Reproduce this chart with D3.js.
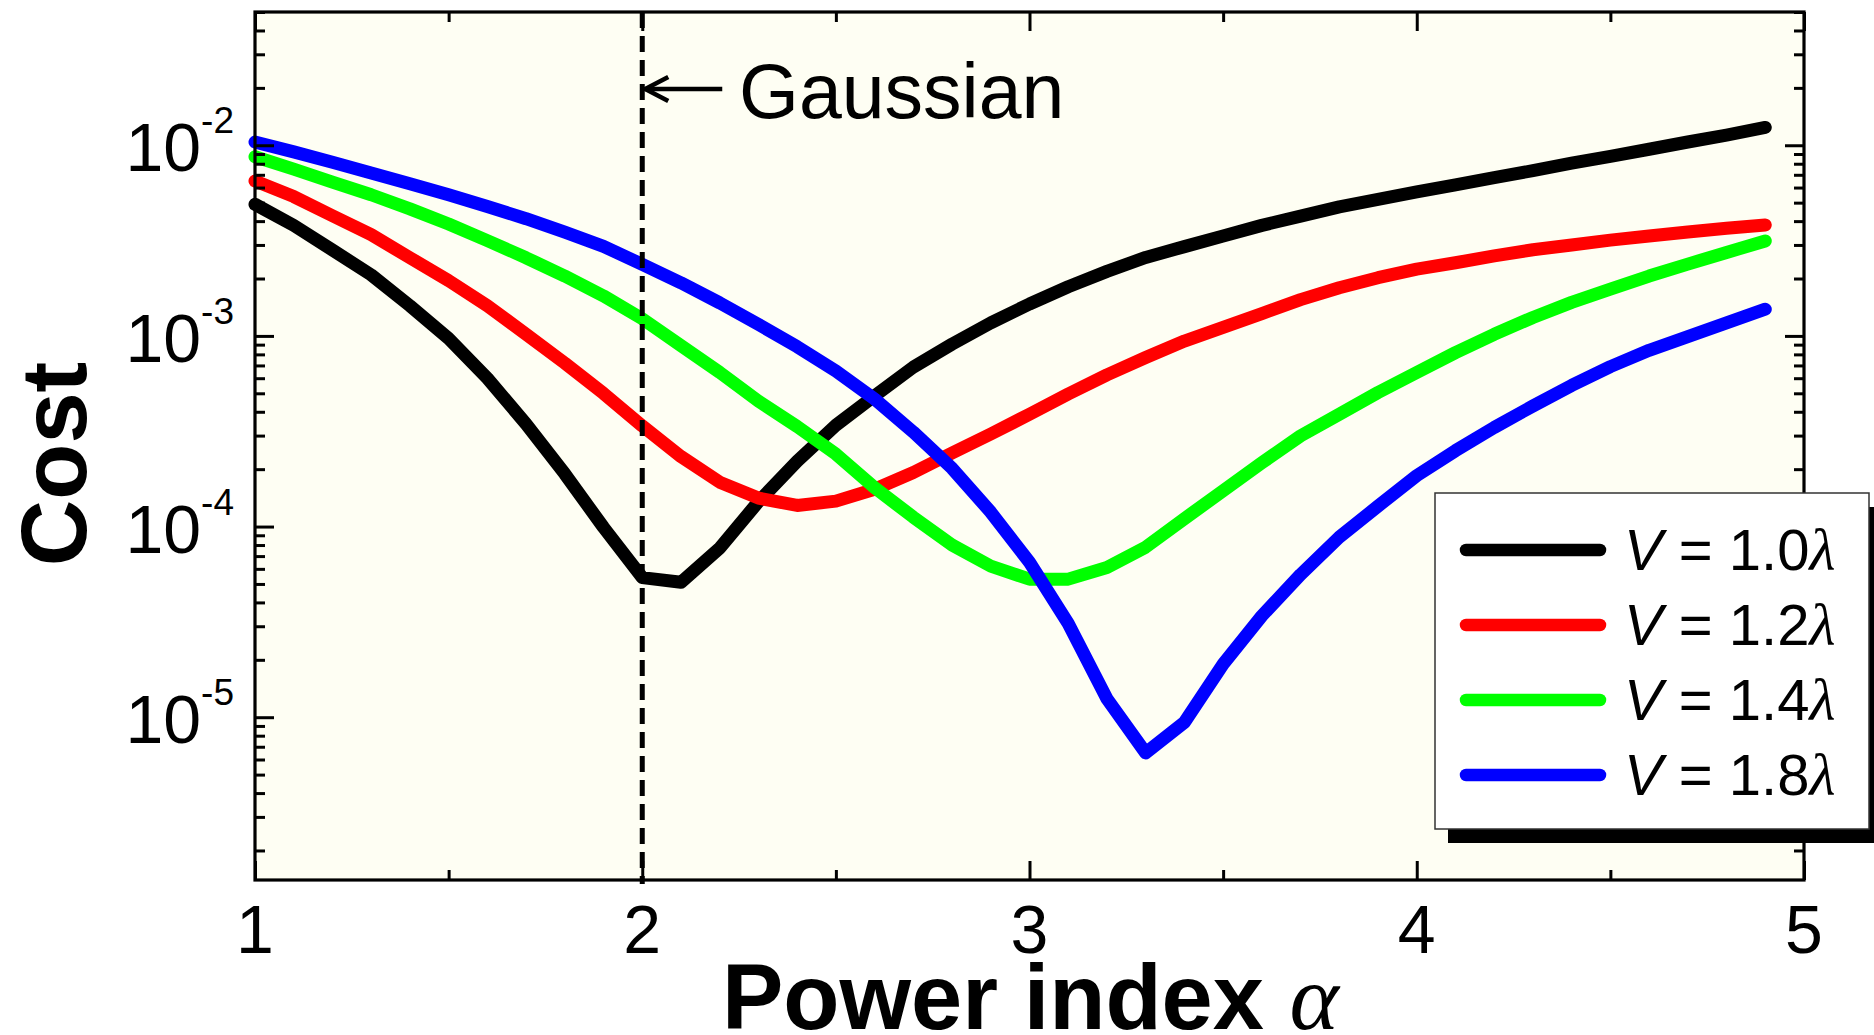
<!DOCTYPE html>
<html>
<head>
<meta charset="utf-8">
<script src="https://cdn.jsdelivr.net/npm/d3@7"></script>
<style>
  html, body { margin: 0; padding: 0; background: #ffffff; }
  svg { display: block; }
  text { font-family: "Liberation Sans", Arial, Helvetica, sans-serif; fill: #000; }
</style>
</head>
<body>
<svg id="chart" width="1874" height="1035"></svg>
<script>
// Power index values (x)
const alpha = [1.0, 1.1, 1.2, 1.3, 1.4, 1.5, 1.6, 1.7, 1.8, 1.9,
               2.0, 2.1, 2.2, 2.3, 2.4, 2.5, 2.6, 2.7, 2.8, 2.9,
               3.0, 3.1, 3.2, 3.3, 3.4, 3.5, 3.6, 3.7, 3.8, 3.9,
               4.0, 4.1, 4.2, 4.3, 4.4, 4.5, 4.6, 4.7, 4.8, 4.9];

// Cost for each aperture V
const costV10 = [4.9e-3, 3.8e-3, 2.82e-3, 2.09e-3, 1.44e-3, 9.7e-4, 6.0e-4, 3.45e-4, 1.89e-4, 9.9e-5,
                 5.4e-5, 5.1e-5, 7.7e-5, 1.35e-4, 2.2e-4, 3.4e-4, 4.85e-4, 6.86e-4, 9.05e-4, 1.17e-3,
                 1.47e-3, 1.81e-3, 2.18e-3, 2.58e-3, 2.94e-3, 3.34e-3, 3.8e-3, 4.25e-3, 4.75e-3, 5.2e-3,
                 5.69e-3, 6.2e-3, 6.76e-3, 7.36e-3, 8.05e-3, 8.75e-3, 9.53e-3, 1.04e-2, 1.13e-2, 1.24e-2];

const costV12 = [6.5e-3, 5.38e-3, 4.27e-3, 3.4e-3, 2.57e-3, 1.95e-3, 1.44e-3, 1.02e-3, 7.2e-4, 4.99e-4,
                 3.37e-4, 2.33e-4, 1.71e-4, 1.41e-4, 1.29e-4, 1.36e-4, 1.57e-4, 1.92e-4, 2.43e-4, 3.06e-4,
                 3.88e-4, 4.96e-4, 6.25e-4, 7.7e-4, 9.4e-4, 1.11e-3, 1.31e-3, 1.55e-3, 1.79e-3, 2.02e-3,
                 2.24e-3, 2.42e-3, 2.63e-3, 2.83e-3, 3.0e-3, 3.18e-3, 3.34e-3, 3.51e-3, 3.67e-3, 3.82e-3];

const costV14 = [8.7e-3, 7.5e-3, 6.41e-3, 5.5e-3, 4.64e-3, 3.86e-3, 3.16e-3, 2.57e-3, 2.06e-3, 1.62e-3,
                 1.23e-3, 8.9e-4, 6.44e-4, 4.55e-4, 3.35e-4, 2.4e-4, 1.6e-4, 1.12e-4, 8.0e-5, 6.2e-5,
                 5.3e-5, 5.3e-5, 6.1e-5, 7.8e-5, 1.1e-4, 1.54e-4, 2.16e-4, 2.99e-4, 3.88e-4, 5.05e-4,
                 6.43e-4, 8.17e-4, 1.02e-3, 1.25e-3, 1.5e-3, 1.76e-3, 2.06e-3, 2.38e-3, 2.74e-3, 3.15e-3];

const costV18 = [1.04e-2, 9.23e-3, 8.15e-3, 7.16e-3, 6.29e-3, 5.5e-3, 4.77e-3, 4.12e-3, 3.5e-3, 2.95e-3,
                 2.37e-3, 1.9e-3, 1.49e-3, 1.15e-3, 8.78e-4, 6.55e-4, 4.67e-4, 3.13e-4, 2.02e-4, 1.19e-4,
                 6.5e-5, 3.1e-5, 1.25e-5, 6.5e-6, 9.4e-6, 1.9e-5, 3.4e-5, 5.6e-5, 8.8e-5, 1.28e-4,
                 1.85e-4, 2.5e-4, 3.31e-4, 4.29e-4, 5.5e-4, 6.9e-4, 8.4e-4, 9.9e-4, 1.17e-3, 1.38e-3];

const seriesLabels = ["1.0", "1.2", "1.4", "1.8"];
const seriesColors = ["#000000", "#ff0000", "#00ff00", "#0000ff"];
const seriesValues = [costV10, costV12, costV14, costV18];

const xMajorTicks = [1, 2, 3, 4, 5];
const xMinorTicks = [1.5, 2.5, 3.5, 4.5];
const yMajorExponents = [-2, -3, -4, -5];
const gaussianAlpha = 2;

// ---- layout ----
const svg = d3.select("#chart");
const plot = { left: 255, right: 1804, top: 12, bottom: 880 };

const x = d3.scaleLinear().domain([1, 5]).range([plot.left, plot.right]);
const y = d3.scaleLog().domain([1.4e-6, 5e-2]).range([plot.bottom, plot.top]);

const yMajorTicks = yMajorExponents.map(e => Math.pow(10, e));
const yMinorTicks = [];
for (let e = -6; e <= -2; e++) {
  for (let m = 2; m <= 9; m++) {
    const v = m * Math.pow(10, e);
    if (v >= y.domain()[0] && v <= y.domain()[1]) yMinorTicks.push(v);
  }
}

// plot background
svg.append("rect")
  .attr("x", plot.left).attr("y", plot.top)
  .attr("width", plot.right - plot.left).attr("height", plot.bottom - plot.top)
  .attr("fill", "#fefef3");

// curves
const line = d3.line()
  .x((d, i) => x(alpha[i]))
  .y(d => y(d));

svg.append("g").selectAll("path")
  .data(seriesValues)
  .join("path")
  .attr("d", d => line(d))
  .attr("fill", "none")
  .attr("stroke", (d, i) => seriesColors[i])
  .attr("stroke-width", 13)
  .attr("stroke-linecap", "round")
  .attr("stroke-linejoin", "round");

// Gaussian marker
svg.append("line")
  .attr("x1", x(gaussianAlpha)).attr("x2", x(gaussianAlpha))
  .attr("y1", plot.top).attr("y2", plot.bottom + 4)
  .attr("stroke", "#000").attr("stroke-width", 5)
  .attr("stroke-dasharray", "16,8");

const arrowY = 89;
svg.append("path")
  .attr("d", `M${x(gaussianAlpha) + 80},${arrowY} H${x(gaussianAlpha) + 3}`)
  .attr("stroke", "#000").attr("stroke-width", 4.5).attr("fill", "none");
svg.append("path")
  .attr("d", `M${x(gaussianAlpha) + 26},${arrowY - 12} L${x(gaussianAlpha) + 3},${arrowY} L${x(gaussianAlpha) + 26},${arrowY + 12}`)
  .attr("stroke", "#000").attr("stroke-width", 4.5).attr("fill", "none")
  .attr("stroke-linejoin", "miter");

svg.append("text")
  .attr("x", 739).attr("y", 118)
  .attr("font-size", 77)
  .text("Gaussian");

// axes (ticks point inward on all four sides)
function styleAxis(g) {
  g.select(".domain").remove();
  g.selectAll(".tick line").attr("stroke", "#000").attr("stroke-width", 3);
  g.selectAll(".tick text").remove();
}
function axisSet() {
  return [
    { gen: d3.axisBottom(x), t: `translate(0,${plot.bottom})`, major: xMajorTicks, minor: xMinorTicks },
    { gen: d3.axisTop(x), t: `translate(0,${plot.top})`, major: xMajorTicks, minor: xMinorTicks },
    { gen: d3.axisLeft(y), t: `translate(${plot.left},0)`, major: yMajorTicks, minor: yMinorTicks },
    { gen: d3.axisRight(y), t: `translate(${plot.right},0)`, major: yMajorTicks, minor: yMinorTicks }
  ];
}
axisSet().forEach(a => {
  svg.append("g").attr("transform", a.t)
    .call(a.gen.tickValues(a.major).tickSize(-19).tickSizeOuter(0))
    .call(styleAxis);
});
axisSet().forEach(a => {
  svg.append("g").attr("transform", a.t)
    .call(a.gen.tickValues(a.minor).tickSize(-10).tickSizeOuter(0))
    .call(styleAxis);
});

// frame
svg.append("rect")
  .attr("x", plot.left).attr("y", plot.top)
  .attr("width", plot.right - plot.left).attr("height", plot.bottom - plot.top)
  .attr("fill", "none").attr("stroke", "#000").attr("stroke-width", 3.2);

// x tick labels
svg.append("g").selectAll("text")
  .data(xMajorTicks)
  .join("text")
  .attr("x", d => x(d))
  .attr("y", 953)
  .attr("text-anchor", "middle")
  .attr("font-size", 68)
  .text(d => d);

// y tick labels: 10 with superscript exponent
const yLab = svg.append("g").selectAll("text")
  .data(yMajorExponents)
  .join("text")
  .attr("x", 234)
  .attr("y", d => y(Math.pow(10, d)) + 26)
  .attr("text-anchor", "end")
  .attr("font-size", 68);
yLab.append("tspan").text("10");
yLab.append("tspan").attr("dy", -38).attr("font-size", 37).text(d => d);

// axis titles
const xt = svg.append("text")
  .attr("x", 722).attr("y", 1029)
  .attr("font-size", 92).attr("font-weight", "bold");
xt.append("tspan").text("Power index ");
xt.append("tspan")
  .attr("font-family", "'Liberation Serif', 'Times New Roman', serif")
  .attr("font-style", "italic").attr("font-weight", "normal")
  .attr("font-size", 94)
  .text("α");

svg.append("text")
  .attr("transform", "translate(86,464) rotate(-90)")
  .attr("text-anchor", "middle")
  .attr("font-size", 92).attr("font-weight", "bold")
  .text("Cost");

// legend
const lg = { x: 1435, y: 493, w: 434, h: 336 };
svg.append("rect")
  .attr("x", lg.x + 13).attr("y", lg.y + 14)
  .attr("width", lg.w).attr("height", lg.h)
  .attr("fill", "#000");
svg.append("rect")
  .attr("x", lg.x).attr("y", lg.y)
  .attr("width", lg.w).attr("height", lg.h)
  .attr("fill", "#fff").attr("stroke", "#333").attr("stroke-width", 1.5);

const rows = svg.append("g").selectAll("g")
  .data(seriesLabels)
  .join("g")
  .attr("transform", (d, i) => `translate(0,${550 + i * 75})`);
rows.append("line")
  .attr("x1", 1466).attr("x2", 1600)
  .attr("y1", 0).attr("y2", 0)
  .attr("stroke", (d, i) => seriesColors[i])
  .attr("stroke-width", 12.5)
  .attr("stroke-linecap", "round");
const lt = rows.append("text")
  .attr("x", 1624).attr("y", 20)
  .attr("font-size", 58);
lt.append("tspan").attr("font-style", "italic").text("V");
lt.append("tspan").text(d => " = " + d);
lt.append("tspan")
  .attr("font-family", "'Liberation Serif', 'Times New Roman', serif")
  .attr("font-style", "italic")
  .attr("font-size", 60)
  .text("λ");
</script>
</body>
</html>
